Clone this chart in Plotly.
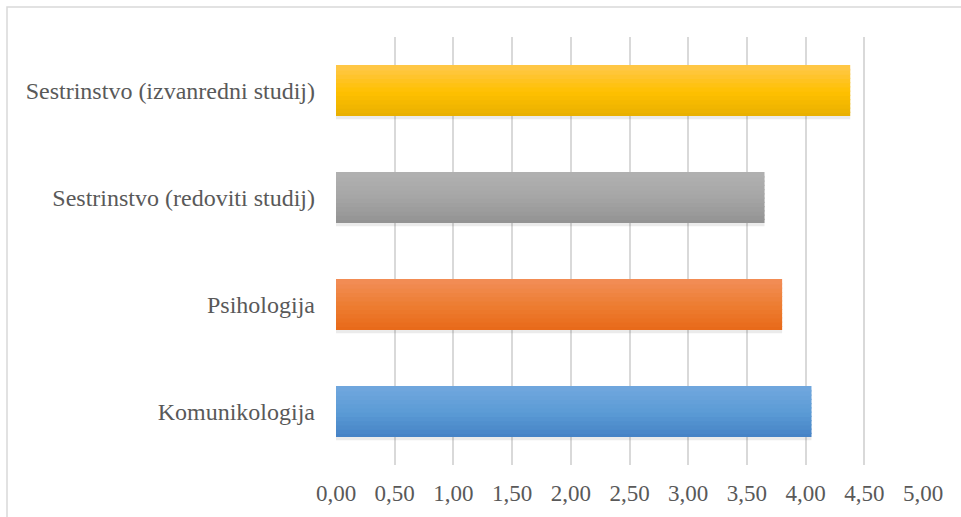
import plotly.graph_objects as go

# podaci (srednje vrijednosti po studiju)
categories = [
    "Komunikologija",
    "Psihologija",
    "Sestrinstvo (redoviti studij)",
    "Sestrinstvo (izvanredni studij)",
]
values = [4.05, 3.80, 3.65, 4.38]
tick_vals = [0, 0.5, 1, 1.5, 2, 2.5, 3, 3.5, 4, 4.5, 5]

# boje: (tamnija dolje, svjetlija gore)
colors_bottom = ["#4683C6", "#E86A1A", "#939393", "#E9B000"]
colors_top = ["#6FA6DD", "#F28C54", "#B0B0B0", "#FFC745"]
colors_mid = ["#5B9BD5", "#ED7D31", "#A5A5A5", "#FFC000"]


def mix(c1, c2, t):
    a = [int(c1[i:i + 2], 16) for i in (1, 3, 5)]
    b = [int(c2[i:i + 2], 16) for i in (1, 3, 5)]
    return "rgb(%d,%d,%d)" % tuple(round(a[k] + (b[k] - a[k]) * t) for k in range(3))


BAR_W = 0.476
N = 12
OV = 0.012  # preklapanje traka da se ne vide rubovi

fig = go.Figure()

# sjena
fig.add_trace(go.Bar(
    y=categories, x=values, orientation="h",
    width=BAR_W, offset=-BAR_W / 2 - 0.03,
    marker=dict(color="rgba(0,0,0,0.08)", line=dict(width=0)),
    hoverinfo="skip", showlegend=False,
))

# gradijent preko vise tankih traka
for i in range(N):
    t = i / (N - 1)
    cols = []
    for cb, cm, ct in zip(colors_bottom, colors_mid, colors_top):
        if t < 0.5:
            cols.append(mix(cb, cm, t * 2))
        else:
            cols.append(mix(cm, ct, (t - 0.5) * 2))
    ov = OV if i else 0
    fig.add_trace(go.Bar(
        y=categories, x=values, orientation="h",
        width=BAR_W / N + ov, offset=-BAR_W / 2 + i * BAR_W / N - ov,
        marker=dict(color=cols, line=dict(width=0)),
        hoverinfo="skip" if i else "x+y", showlegend=False,
    ))

fig.update_layout(
    width=961, height=517,
    barmode="overlay",
    separators=", ",
    plot_bgcolor="white", paper_bgcolor="white",
    margin=dict(l=336, r=38, t=37, b=52),
    font=dict(family="Liberation Serif, 'Times New Roman', serif", color="#595959", size=23),
    shapes=[dict(
        type="rect", xref="paper", yref="paper",
        x0=(7 - 336) / 587, x1=(965 - 336) / 587,
        y0=-(525 - 465) / 428, y1=1 + (37 - 7) / 428,
        line=dict(color="#D9D9D9", width=1.5), fillcolor="rgba(0,0,0,0)",
        layer="below",
    )],
)

fig.update_xaxes(
    range=[0, 5], tickvals=tick_vals, tickformat=".2f",
    showgrid=True, gridcolor="#D9D9D9", gridwidth=1.5,
    zeroline=False, showline=False, ticks="",
    tickfont=dict(size=23), ticklabelstandoff=12,
)
fig.update_yaxes(
    type="category", categoryorder="array", categoryarray=categories,
    showgrid=False, zeroline=False, showline=False, ticks="",
    tickfont=dict(size=24), ticklabelstandoff=20,
)

fig.write_html("out.html", config={"displayModeBar": False},
               post_script="document.body.style.margin='0px';")
